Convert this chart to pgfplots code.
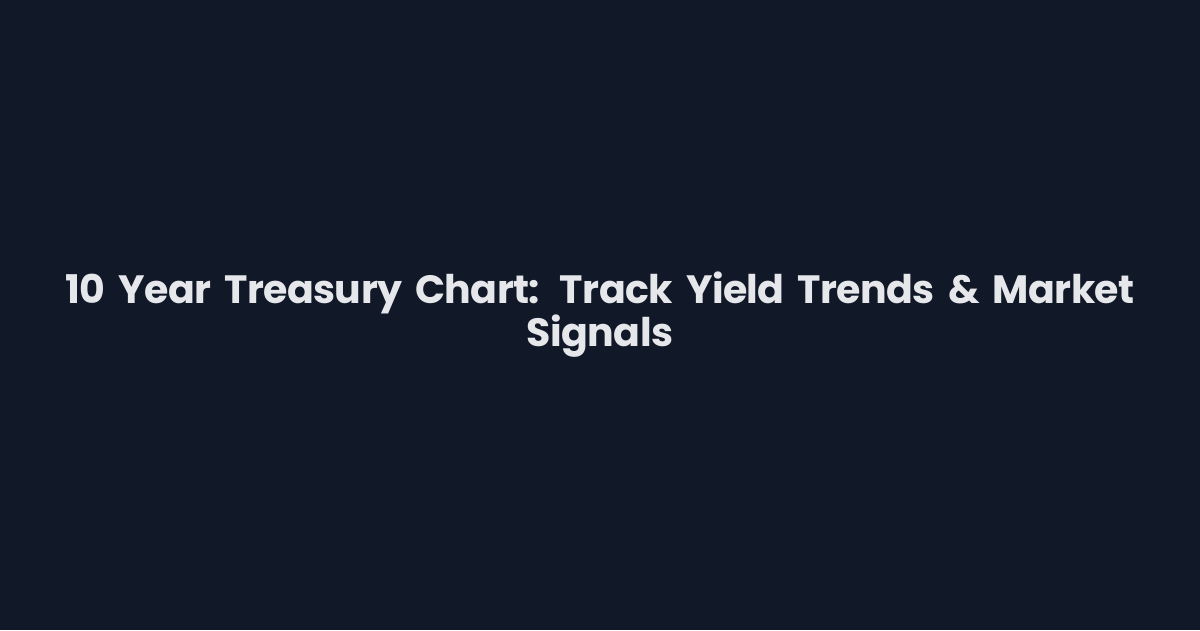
\documentclass[border=0pt]{standalone}
\usepackage{pgfplots}
\pgfplotsset{compat=1.18}
\usepackage{fontspec}
\setmainfont{Poppins}[BoldFont={* Bold}, WordSpace=0.75, LetterSpace=-1.5]
\definecolor{bgnavy}{HTML}{111827}
\definecolor{titlegray}{HTML}{E5E7EB}
\begin{document}
\begin{tikzpicture}
\begin{axis}[
    width=1200pt, height=630pt,
    scale only axis,
    xmin=0, xmax=1, ymin=0, ymax=1,
    axis lines=none,
    ticks=none,
    axis background/.style={fill=bgnavy},
    clip=false,
]
\node[align=center, text width=1180pt, text=titlegray,
      font=\fontsize{39.5}{40}\selectfont\bfseries]
  at (rel axis cs:0.5,0.5)
  {10 Year Treasury Chart: Track Yield Trends \& Market\\Signals};
\end{axis}
\end{tikzpicture}
\end{document}
